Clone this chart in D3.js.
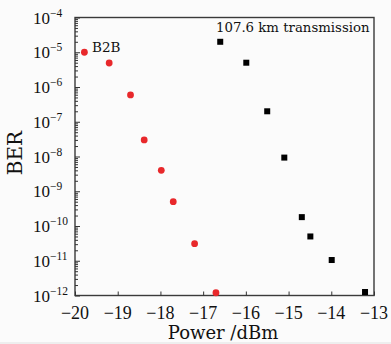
<!DOCTYPE html>
<html>
<head>
<meta charset="utf-8">
<script src="https://cdn.jsdelivr.net/npm/d3@7"></script>
<style>
  body { margin: 0; background: #fbfbfb; }
  svg { display: block; }
  .tick-num { font-family: "Liberation Serif", serif; fill: #111; }
  .word { font-family: "DejaVu Serif", serif; fill: #111; }
</style>
</head>
<body>
<svg id="chart"></svg>
<script>
// B2B (red circles)
const b2bPower = [-19.78, -19.20, -18.70, -18.38, -17.98, -17.70, -17.20, -16.70];
const b2bBer = [1.0e-5, 4.9e-6, 5.9e-7, 3.0e-8, 4.0e-9, 5.0e-10, 3.1e-11, 1.2e-12];
// 107.6 km transmission (black squares)
const txPower = [-16.60, -15.99, -15.50, -15.10, -14.69, -14.49, -13.99, -13.21];
const txBer = [2.0e-5, 5.0e-6, 2.0e-7, 9.3e-9, 1.8e-10, 5.0e-11, 1.05e-11, 1.26e-12];

const xTicks = [-20, -19, -18, -17, -16, -15, -14, -13];
const yExponents = [-12, -11, -10, -9, -8, -7, -6, -5, -4];

const width = 391, height = 344;
const margin = { top: 17.5, right: 17, bottom: 48.5, left: 75 };

const svg = d3.select("#chart")
  .attr("width", width)
  .attr("height", height);

svg.append("rect")
  .attr("x", 0).attr("y", 342)
  .attr("width", width).attr("height", 2)
  .attr("fill", "#eeeeee");

const x = d3.scaleLinear()
  .domain([-20, -13])
  .range([margin.left, width - margin.right]);

const y = d3.scaleLog()
  .domain([1e-12, 1e-4])
  .range([height - margin.bottom, margin.top]);

// frame
svg.append("rect")
  .attr("x", x.range()[0])
  .attr("y", y.range()[1])
  .attr("width", x.range()[1] - x.range()[0])
  .attr("height", y.range()[0] - y.range()[1])
  .attr("fill", "none")
  .attr("stroke", "#3a3a3a")
  .attr("stroke-width", 1.4);

// y ticks, major + minor, pointing inwards
let yTickVals = [];
yExponents.forEach(e => {
  yTickVals.push(Math.pow(10, e));
  if (e < -4) for (let k = 2; k <= 9; k++) yTickVals.push(k * Math.pow(10, e));
});

const yAxisG = svg.append("g")
  .attr("transform", `translate(${margin.left},0)`)
  .call(d3.axisLeft(y).tickValues(yTickVals).tickSizeInner(-3).tickSizeOuter(0).tickFormat(""));
yAxisG.select(".domain").remove();
yAxisG.selectAll(".tick line")
  .attr("stroke", "#333")
  .attr("x2", d => Math.abs(Math.log10(d) - Math.round(Math.log10(d))) < 1e-9 ? 5 : 3);

// y tick labels: 10^n
const yLab = svg.append("g");
yExponents.forEach(e => {
  const t = yLab.append("text")
    .attr("class", "tick-num")
    .attr("x", 33)
    .attr("y", y(Math.pow(10, e)) + 6)
    .style("font-size", "17px");
  t.append("tspan").text("10");
  t.append("tspan")
    .attr("dy", -7)
    .style("font-size", "11.5px")
    .text("\u2212" + Math.abs(e));
});

// x axis ticks
const xAxisG = svg.append("g")
  .attr("transform", `translate(0,${y.range()[0]})`)
  .call(d3.axisBottom(x).tickValues(xTicks).tickSizeInner(-4).tickSizeOuter(0).tickFormat(""));
xAxisG.select(".domain").remove();
xAxisG.selectAll(".tick line").attr("stroke", "#333");

svg.append("g").selectAll("text")
  .data(xTicks)
  .join("text")
  .attr("class", "tick-num")
  .attr("x", d => x(d))
  .attr("y", 318.5)
  .attr("text-anchor", "middle")
  .style("font-size", "18px")
  .text(d => "\u2212" + Math.abs(d));

// axis titles
svg.append("text")
  .attr("class", "word")
  .attr("x", 223)
  .attr("y", 339)
  .attr("text-anchor", "middle")
  .style("font-size", "18px")
  .text("Power /dBm");

svg.append("text")
  .attr("class", "word")
  .attr("transform", "translate(22,153) rotate(-90)")
  .attr("text-anchor", "middle")
  .style("font-size", "20px")
  .text("BER");

// points
svg.append("g").selectAll("circle")
  .data(b2bPower.map((p, i) => ({ p, b: b2bBer[i] })))
  .join("circle")
  .attr("cx", d => x(d.p))
  .attr("cy", d => y(d.b))
  .attr("r", 3.4)
  .attr("fill", "#e8282b");

const sq = 6;
svg.append("g").selectAll("rect")
  .data(txPower.map((p, i) => ({ p, b: txBer[i] })))
  .join("rect")
  .attr("x", d => x(d.p) - sq / 2)
  .attr("y", d => y(d.b) - sq / 2)
  .attr("width", sq)
  .attr("height", sq)
  .attr("fill", "#000");

// annotations
svg.append("text")
  .attr("class", "word")
  .attr("x", 92)
  .attr("y", 52)
  .style("font-size", "13.5px")
  .text("B2B");

svg.append("text")
  .attr("class", "word")
  .attr("x", 216)
  .attr("y", 32)
  .style("font-size", "13.3px")
  .text("107.6 km transmission");
</script>
</body>
</html>
